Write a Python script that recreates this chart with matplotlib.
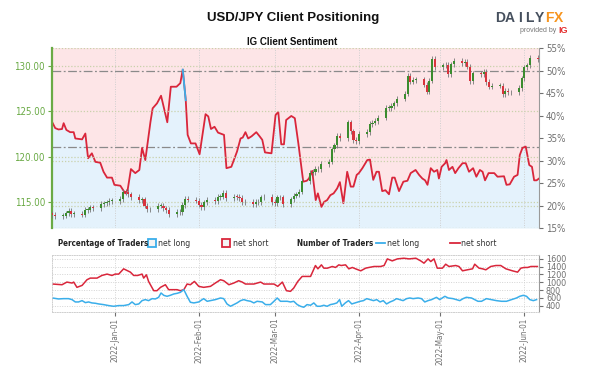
import matplotlib
matplotlib.use("Agg")
import matplotlib.pyplot as plt
from matplotlib.lines import Line2D
import pandas as pd

plt.rcParams['font.family'] = ['Liberation Sans', 'DejaVu Sans']
NARROW = dict(family=['DejaVu Sans'], stretch='condensed')

START = pd.Timestamp('2021-12-09')

# daily USD/JPY closes, business days 2021-12-09 .. 2022-06-06
first_open = 113.75
closes = [
    # Dec
    113.55, 113.45, 113.50, 113.75, 114.05, 113.70, 113.70, 113.60, 114.10,
    114.15, 114.40, 114.35, 114.80, 114.85, 114.95, 115.10, 115.10,
    # Jan
    115.35, 116.15, 116.10, 115.85, 115.55, 115.20, 115.30, 114.60, 114.20,
    114.20, 114.60, 114.60, 114.30, 114.10, 113.70, 113.95, 113.85, 114.65,
    115.35, 115.25, 115.15,
    # Feb
    114.70, 114.45, 114.95, 115.25, 115.10, 115.55, 115.60, 116.00, 115.40,
    115.60, 115.55, 115.45, 114.95, 115.00, 114.75, 115.00, 114.95, 115.50,
    115.60, 115.00,
    # Mar
    114.90, 115.50, 115.50, 114.80, 115.30, 115.70, 115.85, 116.15, 117.30,
    118.20, 118.30, 118.70, 118.60, 119.20, 119.45, 120.80, 121.25, 122.30,
    122.05, 123.80, 122.80, 121.85, 121.70,
    # Apr
    122.50, 122.75, 123.60, 123.75, 123.95, 124.30, 125.40, 125.40, 125.60,
    125.90, 126.40, 126.95, 128.90, 128.30, 128.45, 128.55, 127.95, 127.20,
    128.40, 130.80, 129.90,
    # May
    130.10, 130.15, 129.10, 130.20, 130.55, 130.30, 130.45, 129.95, 128.35,
    129.20, 129.15, 129.35, 128.25, 127.75, 127.85, 127.85, 126.90, 127.30,
    127.10, 127.10, 127.60, 128.65,
    # Jun
    129.85, 130.10, 130.90, 130.80,
]

# % of traders net long (days since START)
sent_day = [0, 1.1, 2.3, 3.6, 4.2, 5.2, 6.6, 7.9, 8.5, 11.0, 12.2, 13.2, 14.6,
            15.9, 17.7, 18.9, 20.2, 22.0, 22.9, 25.1, 26.9, 27.8, 29.0, 30.6,
            32.1, 33.1, 34.3, 36.2, 37.0, 38.6, 40.1, 42.4, 43.7, 45.8, 47.2,
            48.1, 49.2, 49.9, 51.1, 52.8, 54.3, 56.5, 57.5, 58.5, 59.8, 61.1,
            63.3, 64.2, 66.0, 68.1, 69.4, 70.2, 71.2, 72.2, 73.5, 75.2, 76.4,
            77.4, 78.4, 80.8, 82.3, 83.3, 84.4, 85.4, 86.2, 88.1, 89.4, 90.7,
            92.5, 93.8, 94.6, 95.8, 97.1, 97.9, 99.2, 100.2, 101.3, 102.5,
            103.7, 105.0, 106.0, 107.3, 108.7, 110.0, 111.0, 112.2, 113.0,
            114.3, 116.1, 117.1, 118.3, 119.5, 120.4, 121.6, 122.8, 124.1,
            125.3, 126.2, 127.8, 129.4, 130.9, 132.1, 133.9, 135.2, 136.4,
            137.4, 138.3, 139.5, 140.7, 141.9, 142.5, 143.5, 144.8, 145.3,
            146.2, 147.5, 148.5, 149.7, 151.2, 152.4, 153.6, 155.1, 156.3,
            157.6, 158.6, 159.5, 160.8, 162.9, 164.1, 166.5, 167.4, 168.6,
            170.2, 171.5, 172.3, 173.3, 174.5, 175.8, 176.8, 177.6, 178.5,
            179.4]
sent_long = [38.5, 37.2, 36.9, 37.0, 38.3, 36.8, 36.3, 36.3, 34.9, 34.7, 36.0,
             30.5, 31.6, 29.7, 29.5, 27.5, 26.2, 26.2, 24.6, 24.4, 22.7, 23.5,
             28.1, 27.2, 27.9, 32.8, 30.1, 38.6, 41.6, 42.7, 44.4, 38.5, 46.4,
             46.4, 47.2, 50.2, 43.4, 35.7, 33.8, 33.8, 31.4, 40.3, 39.8, 37.0,
             37.5, 36.2, 35.7, 28.3, 28.6, 32.0, 34.9, 35.1, 36.3, 34.9, 35.4,
             36.3, 35.4, 34.6, 31.8, 31.6, 40.1, 40.8, 33.6, 33.6, 39.0, 39.9,
             39.4, 33.8, 25.3, 25.5, 26.0, 27.7, 21.2, 22.7, 19.7, 20.8, 21.2,
             22.3, 22.7, 23.8, 25.2, 20.5, 27.5, 24.2, 24.2, 26.8, 27.2, 28.3,
             30.1, 30.2, 25.7, 27.5, 27.5, 23.2, 23.4, 22.5, 26.2, 26.2, 23.2,
             25.3, 25.5, 27.2, 27.9, 26.8, 26.0, 25.6, 24.6, 28.3, 27.5, 27.9,
             26.0, 28.6, 29.4, 30.1, 27.9, 28.6, 27.2, 28.3, 29.4, 29.4, 27.5,
             28.3, 26.4, 27.9, 27.5, 25.6, 27.2, 27.2, 26.4, 26.5, 24.6, 24.7,
             26.4, 26.8, 31.2, 32.8, 33.1, 29.0, 28.6, 25.6, 25.6, 26.0]

# number of traders
short_day = [0.1, 3.6, 5.4, 7.3, 7.9, 9.1, 11.0, 12.8, 14.0, 16.5, 18.3, 20.2,
             22.0, 23.2, 24.5, 26.3, 27.8, 28.8, 30.0, 31.5, 33.1, 33.7, 34.7,
             35.5, 37.4, 38.6, 39.9, 41.7, 42.9, 44.5, 46.0, 47.2, 48.5, 49.7,
             50.9, 52.4, 54.0, 55.8, 58.3, 60.1, 62.0, 63.2, 65.1, 66.9, 68.7,
             70.0, 71.2, 74.3, 76.8, 78.0, 81.7, 83.1, 84.8, 86.3, 87.8, 89.0,
             90.5, 92.1, 94.0, 95.2, 97.0, 97.9, 99.2, 100.1, 101.4, 103.2,
             104.4, 105.6, 106.5, 108.1, 109.3, 110.6, 111.8, 113.7, 115.5,
             116.7, 118.6, 121.0, 122.3, 123.5, 125.3, 127.2, 129.6, 131.5,
             134.0, 135.8, 137.0, 138.5, 139.5, 140.7, 141.9, 143.8, 145.0,
             146.2, 148.7, 149.9, 151.2, 153.0, 154.9, 155.7, 157.3, 158.6,
             159.8, 161.6, 163.5, 165.3, 167.2, 169.6, 171.5, 172.7, 173.9,
             175.2, 176.4, 178.8]
short_count = [955, 937, 1005, 980, 1005, 870, 920, 1065, 1107, 1107, 1175, 1210,
               1175, 1210, 1210, 1345, 1294, 1260, 1175, 1175, 1210, 1107, 1192,
               1022, 784, 784, 870, 937, 810, 810, 810, 784, 810, 955, 937, 1022,
               895, 870, 895, 980, 1065, 1040, 937, 980, 1040, 1005, 955, 955,
               1005, 955, 955, 895, 1005, 784, 767, 852, 1022, 1150, 1150, 1150,
               1430, 1345, 1447, 1362, 1362, 1405, 1380, 1447, 1430, 1447, 1345,
               1380, 1345, 1294, 1362, 1380, 1405, 1405, 1430, 1600, 1549, 1600,
               1617, 1600, 1617, 1549, 1490, 1600, 1532, 1600, 1362, 1362, 1464,
               1405, 1430, 1405, 1294, 1320, 1345, 1464, 1362, 1345, 1320, 1405,
               1430, 1430, 1345, 1294, 1260, 1362, 1380, 1380, 1405, 1405]

long_day = [0.1, 2.3, 4.2, 6.0, 7.3, 8.5, 9.7, 11.0, 12.2, 13.4, 14.6, 15.9,
            17.1, 18.9, 20.8, 22.6, 24.5, 26.3, 28.2, 29.4, 30.6, 31.9, 33.1,
            34.3, 35.5, 36.8, 38.0, 39.2, 40.1, 41.1, 42.3, 43.5, 44.8, 46.0,
            47.2, 48.5, 49.7, 50.9, 52.2, 54.0, 55.8, 57.1, 58.3, 60.1, 62.0,
            63.2, 64.4, 65.7, 66.9, 68.1, 69.4, 70.6, 71.8, 73.1, 74.3, 75.5,
            77.4, 78.6, 80.4, 81.7, 82.9, 84.1, 86.6, 87.8, 89.0, 90.3, 91.5,
            92.7, 93.9, 95.2, 96.4, 97.6, 98.8, 100.1, 101.3, 102.5, 103.7,
            104.9, 105.9, 106.7, 108.0, 109.2, 110.4, 111.6, 113.5, 114.7,
            115.9, 117.1, 118.4, 119.6, 120.8, 122.0, 123.2, 124.5, 125.7,
            126.9, 128.1, 129.3, 130.6, 131.8, 133.0, 134.8, 136.1, 137.3,
            138.5, 139.8, 141.6, 142.8, 144.7, 145.9, 147.7, 149.0, 150.2,
            151.4, 152.6, 154.5, 155.7, 156.9, 158.2, 160.0, 161.9, 163.7,
            165.6, 167.4, 169.3, 171.1, 172.3, 173.6, 174.8, 176.0, 177.3,
            178.5]
long_count = [597, 572, 580, 580, 555, 495, 495, 529, 478, 495, 470, 461, 444,
              427, 402, 384, 402, 402, 427, 495, 427, 444, 529, 555, 529, 580,
              572, 614, 725, 665, 640, 665, 700, 716, 742, 810, 640, 487, 470,
              495, 580, 512, 529, 555, 597, 580, 444, 384, 427, 470, 529, 555,
              529, 512, 470, 512, 495, 427, 427, 512, 597, 512, 512, 495, 512,
              427, 384, 359, 427, 410, 470, 384, 384, 410, 384, 427, 444, 470,
              555, 384, 470, 529, 444, 470, 512, 529, 580, 555, 529, 555, 495,
              529, 444, 495, 529, 580, 555, 529, 580, 597, 580, 597, 580, 495,
              529, 555, 614, 555, 640, 597, 580, 555, 529, 580, 614, 597, 555,
              512, 512, 580, 555, 529, 512, 512, 555, 597, 640, 665, 640, 555,
              529, 555]

price_ticks = [115, 120, 125, 130]
pct_ticks = [15, 20, 25, 30, 35, 40, 45, 50, 55]
count_ticks = [400, 600, 800, 1000, 1200, 1400, 1600]
month_ticks = pd.date_range('2022-01-01', '2022-06-01', freq='MS')


def to_dates(days):
    return START + pd.to_timedelta(days, unit='D')


RED = '#d9263b'
BLUE = '#3aaeea'
GREEN_C = '#3b8c2f'
RED_C = '#d8333d'
AX_GREEN = '#6aaa45'
GREY = '#707070'

fig = plt.figure(figsize=(5.9, 3.66), dpi=100)
fig.patch.set_facecolor('white')

xlim = (START - pd.Timedelta(days=0.1), START + pd.Timedelta(days=179.4))

# ---------- main panel ----------
ax_pct = fig.add_axes([0.0881, 0.377, 0.8255, 0.4918])
ax_px = ax_pct.twinx()

ax_pct.set_facecolor('#fde5e7')
sd = to_dates(sent_day)
ax_pct.fill_between(sd, 15, sent_long, color='#e4f2fc', lw=0)
ax_pct.plot(sd, sent_long, color=RED, lw=1.3, zorder=4)
for i in range(len(sent_long) - 1):
    if sent_long[i] >= 50:
        ax_pct.plot(sd[i:i + 2], sent_long[i:i + 2], color=BLUE, lw=1.3, zorder=5)
for lvl in (50, 33):
    ax_pct.axhline(lvl, color='#8a8a8a', lw=0.9, ls=(0, (7, 2, 1.5, 2)), zorder=3)
for lvl in (20, 30, 55, 15):
    ax_pct.axhline(lvl, color='#c9d1ab', lw=0.9, ls=(0, (1, 1.5)), zorder=2)
for m in month_ticks:
    ax_pct.axvline(m, color='#cfcfcf', lw=0.7, ls=(0, (1, 1.5)), zorder=2)
ax_pct.set_ylim(15, 55)
ax_pct.set_xlim(xlim)
ax_pct.set_yticks(pct_ticks)
ax_pct.set_yticklabels([f'{t}%' for t in pct_ticks], **NARROW)
ax_pct.yaxis.tick_right()
ax_pct.tick_params(axis='y', colors=GREY, labelsize=7, length=3, pad=2)
ax_pct.set_xticks([])
for s in ('top', 'bottom', 'left'):
    ax_pct.spines[s].set_visible(False)
ax_pct.spines['right'].set_color('#9a9a9a')

ax_px.patch.set_visible(False)
cd = pd.bdate_range('2021-12-09', '2022-06-06')
opens = [first_open] + closes[:-1]
for d, o, c in zip(cd, opens, closes):
    col = GREEN_C if c >= o else RED_C
    lo, hi = min(o, c), max(o, c)
    ax_px.vlines(d, lo - 0.3, hi + 0.3, color='#777777', lw=0.6, zorder=3)
    ax_px.bar(d, max(hi - lo, 0.08), bottom=lo, width=0.8, color=col, lw=0, zorder=4)
for lvl in price_ticks:
    ax_px.axhline(lvl, color='#c9d1ab', lw=0.9, ls=(0, (1, 1.5)), zorder=2)
ax_px.set_ylim(112.13, 132.0)
ax_px.set_xlim(xlim)
ax_px.yaxis.tick_left()
ax_px.set_yticks(price_ticks)
ax_px.set_yticklabels([f'{t:.2f}' for t in price_ticks], **NARROW)
ax_px.tick_params(axis='y', colors=AX_GREEN, labelsize=7, length=3, pad=2)
ax_px.set_xticks([])
for s in ('top', 'bottom', 'right'):
    ax_px.spines[s].set_visible(False)
ax_px.spines['left'].set_color(AX_GREEN)
ax_px.spines['left'].set_linewidth(1.6)

# ---------- traders panel ----------
ax_n = fig.add_axes([0.0881, 0.1489, 0.8255, 0.1544])
ax_n.plot(to_dates(short_day), short_count, color=RED, lw=1.1)
ax_n.plot(to_dates(long_day), long_count, color=BLUE, lw=1.1)
ax_n.set_ylim(250, 1700)
ax_n.set_xlim(xlim)
ax_n.set_yticks(count_ticks)
ax_n.set_yticklabels([str(t) for t in count_ticks], **NARROW)
ax_n.yaxis.tick_right()
ax_n.grid(True, axis='both', color='#d4d4d4', lw=0.7, ls=(0, (1, 1.5)))
ax_n.set_xticks(month_ticks)
ax_n.set_xticklabels([m.strftime('%Y-%b-%d') for m in month_ticks],
                     rotation=90, **NARROW)
ax_n.tick_params(axis='x', colors=GREY, labelsize=5.8, length=3, pad=1.5)
ax_n.tick_params(axis='y', colors=GREY, labelsize=6.5, length=3, pad=2)
for s in ('top', 'bottom', 'left'):
    ax_n.spines[s].set_color('#cfcfcf')
    ax_n.spines[s].set_linestyle((0, (1, 1.5)))
    ax_n.spines[s].set_linewidth(0.7)
ax_n.spines['right'].set_color('#9a9a9a')

# ---------- legend row ----------
ly = 0.336
lab = dict(fontsize=6.2, va='center', color='#333333', **NARROW)
head = dict(fontsize=5.8, va='center', color='#222222', weight='bold', **NARROW)
fig.text(0.098, ly, 'Percentage of Traders', **head)
fig.add_artist(Line2D([0.257], [ly], marker='s', ms=6, mfc='#f4f4f4', mec=BLUE,
                      mew=1.3, transform=fig.transFigure))
fig.text(0.268, ly, 'net long', **lab)
fig.add_artist(Line2D([0.383], [ly], marker='s', ms=6, mfc='#f4f4f4', mec=RED,
                      mew=1.3, transform=fig.transFigure))
fig.text(0.395, ly, 'net short', **lab)
fig.text(0.503, ly, 'Number of Traders', **head)
fig.add_artist(Line2D([0.637, 0.653], [ly, ly], color=BLUE, lw=1.3,
                      transform=fig.transFigure))
fig.text(0.656, ly, 'net long', **lab)
fig.add_artist(Line2D([0.763, 0.779], [ly, ly], color=RED, lw=1.3,
                      transform=fig.transFigure))
fig.text(0.782, ly, 'net short', **lab)

# ---------- titles / logo ----------
fig.text(0.497, 0.951, 'USD/JPY Client Positioning', fontsize=9.5, weight='bold',
         ha='center', va='center', color='#111111')
fig.text(0.495, 0.885, 'IG Client Sentiment', fontsize=7, weight='bold',
         ha='center', va='center', color='#111111')
for i, ch in enumerate('DAILYFX'):
    fig.text(0.848 + i * 0.0165, 0.952, ch, fontsize=10, weight='bold',
             ha='center', va='center', color='#f7941d' if i > 4 else '#46505e')
fig.text(0.942, 0.918, 'provided by', fontsize=5, ha='right', va='center', color='#777777')
fig.text(0.946, 0.918, 'IG', fontsize=6.5, weight='bold', ha='left', va='center',
         color='#e42f2f')

fig.savefig('out.png', dpi=100)
